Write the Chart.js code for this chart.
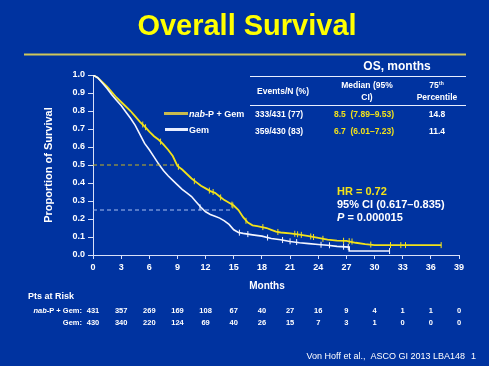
<!DOCTYPE html>
<html><head><meta charset="utf-8">
<script src="https://cdn.jsdelivr.net/npm/chart.js@4/dist/chart.umd.min.js"></script>
<style>html,body{margin:0;padding:0;background:#0033A0;}canvas{display:block;}</style>
</head><body>
<canvas id="c" width="489" height="366"></canvas>
<script>
// ---- data ----
const nabT = [0,0.5,1,1.5,2,2.5,3,3.5,4,4.5,5,5.5,6,6.5,7,7.5,8,8.5,9,9.5,10,10.5,11,11.5,12,12.5,13,13.5,14,14.5,15,15.5,16,16.5,17,17.5,18,18.5,19,19.5,20,21,22,23,24,25,26,27,28,29,30,33,37.1];
const nabS = [1.0,0.985,0.96,0.935,0.905,0.875,0.85,0.825,0.80,0.77,0.74,0.715,0.685,0.66,0.64,0.615,0.585,0.55,0.495,0.475,0.45,0.425,0.405,0.385,0.37,0.355,0.345,0.325,0.305,0.29,0.275,0.25,0.21,0.18,0.165,0.16,0.155,0.15,0.14,0.13,0.125,0.12,0.113,0.105,0.095,0.085,0.08,0.078,0.068,0.06,0.055,0.055,0.055];
const gemT = [0,0.5,1,1.5,2,2.5,3,3.5,4,4.5,5,5.5,6,6.5,7,7.5,8,8.5,9,9.5,10,10.5,11,11.5,12,12.5,13,13.5,14,14.5,15,15.5,16,17,18,19,20,21,22,23,24,25,26,27.3,27.3,31.6];
const gemS = [1.0,0.985,0.955,0.925,0.89,0.86,0.83,0.795,0.76,0.72,0.67,0.62,0.585,0.545,0.505,0.47,0.44,0.415,0.39,0.365,0.345,0.325,0.295,0.265,0.24,0.225,0.215,0.205,0.19,0.17,0.14,0.125,0.12,0.112,0.105,0.092,0.085,0.075,0.068,0.063,0.058,0.054,0.048,0.044,0.022,0.022];
const nabCensor = [[5.3,0.725],[5.6,0.71],[7.2,0.63],[9.1,0.49],[10.8,0.41],[12.4,0.358],[12.8,0.35],[13.6,0.32],[14.8,0.28],[14.9,0.275],[16.3,0.19],[18.1,0.155],[19.7,0.128],[21.5,0.118],[21.8,0.115],[22.2,0.112],[23.2,0.103],[23.5,0.1],[24.5,0.09],[26.7,0.079],[27.3,0.077],[27.6,0.075],[29.6,0.058],[31.7,0.055],[32.8,0.055],[33.3,0.055],[37.1,0.055]];
const gemCensor = [[11.4,0.265],[15.6,0.124],[16.5,0.116],[18.6,0.097],[20.2,0.083],[21.0,0.076],[21.7,0.072],[24.3,0.057],[25.2,0.054],[26.7,0.046],[27.2,0.044],[31.6,0.022]];
const medianNab = [[0,0.5],[8.8,0.5]];
const pct75 = [[0,0.25],[14.6,0.25]];
const monthTicks = [0,3,6,9,12,15,18,21,24,27,30,33,36,39];
const riskNab = [431,357,269,169,108,67,40,27,16,9,4,1,1,0];
const riskGem = [430,340,220,124,69,40,26,15,7,3,1,0,0,0];
const seriesNames = ['nab-P + Gem','Gem'];
const tableHeader = ['Events/N (%)','Median (95%','CI)','75th','Percentile'];
const tableEvents = ['333/431 (77)','359/430 (83)'];
const tableMedian = ['8.5  (7.89\u20139.53)','6.7  (6.01\u20137.23)'];
const table75 = ['14.8','11.4'];
const statsText = ['HR = 0.72','95% CI (0.617\u20130.835)','P = 0.000015'];

const FF = '"Liberation Sans", Arial, sans-serif';
const YEL = '#F2E21A';
const WHT = '#FFFFFF';
const AX = '#D8E0F8';
const pts = (t,s) => t.map((v,i)=>({x:v,y:s[i]}));
const pr = a => a.map(p=>({x:p[0],y:p[1]}));

const overlay = {
  id:'overlay',
  afterDraw(chart){
    const ctx = chart.ctx;
    const xs = chart.scales.x;
    ctx.save();
    ctx.textBaseline = 'alphabetic';
    // title
    ctx.fillStyle = '#FFFF00';
    ctx.font = 'bold 29px '+FF;
    ctx.textAlign = 'center';
    ctx.fillText('Overall Survival', 247, 35);
    ctx.strokeStyle = '#CFC75A';
    ctx.lineWidth = 2;
    ctx.beginPath(); ctx.moveTo(24,54.5); ctx.lineTo(466,54.5); ctx.stroke();
    // legend
    ctx.lineWidth = 3;
    ctx.strokeStyle = '#C9BA4E';
    ctx.beginPath(); ctx.moveTo(164,113.5); ctx.lineTo(188,113.5); ctx.stroke();
    ctx.strokeStyle = '#E8EEFF';
    ctx.beginPath(); ctx.moveTo(165,129.5); ctx.lineTo(188,129.5); ctx.stroke();
    ctx.fillStyle = WHT; ctx.textAlign='left';
    ctx.font = 'italic bold 9px '+FF;
    ctx.fillText('nab', 189, 117);
    let w = ctx.measureText('nab').width;
    ctx.font = 'bold 9px '+FF;
    ctx.fillText(seriesNames[0].slice(3), 189+w, 117);
    ctx.fillText(seriesNames[1], 189, 133);
    // table
    ctx.textAlign='center';
    ctx.font = 'bold 12px '+FF;
    ctx.fillText('OS, months', 397, 70);
    ctx.strokeStyle = '#E8EEFF'; ctx.lineWidth = 1;
    ctx.beginPath(); ctx.moveTo(250,76.5); ctx.lineTo(466,76.5); ctx.stroke();
    ctx.beginPath(); ctx.moveTo(250,105.5); ctx.lineTo(466,105.5); ctx.stroke();
    ctx.font = 'bold 8.5px '+FF;
    ctx.fillText(tableHeader[0], 283, 94);
    ctx.fillText(tableHeader[1], 367, 88);
    ctx.fillText(tableHeader[2], 367, 100);
    ctx.fillText(tableHeader[3].slice(0,2), 434, 88);
    ctx.font = 'bold 5px '+FF;
    ctx.textAlign='left';
    ctx.fillText(tableHeader[3].slice(2), 439, 85);
    ctx.textAlign='center';
    ctx.font = 'bold 8.5px '+FF;
    ctx.fillText(tableHeader[4], 437, 100);
    const rowY = [117, 134];
    for (let i=0;i<2;i++){
      ctx.fillStyle = WHT; ctx.textAlign='left';
      ctx.fillText(tableEvents[i], 255, rowY[i]);
      ctx.fillStyle = YEL;
      ctx.fillText(tableMedian[i], 334, rowY[i]);
      ctx.fillStyle = WHT; ctx.textAlign='center';
      ctx.fillText(table75[i], 437, rowY[i]);
    }
    // stats
    ctx.textAlign='left';
    ctx.font = 'bold 11px '+FF;
    ctx.fillStyle = YEL;
    ctx.fillText(statsText[0], 337, 195);
    ctx.fillStyle = WHT;
    ctx.fillText(statsText[1], 337, 208);
    ctx.font = 'italic bold 11px '+FF;
    ctx.fillText('P', 337, 221);
    const pw = ctx.measureText('P').width;
    ctx.font = 'bold 11px '+FF;
    ctx.fillText(statsText[2].slice(1), 337+pw, 221);
    // x title
    ctx.textAlign='center';
    ctx.font = 'bold 10px '+FF;
    ctx.fillText('Months', 267, 289);
    // risk table
    ctx.textAlign='left';
    ctx.font = 'bold 9px '+FF;
    ctx.fillText('Pts at Risk', 28, 299);
    ctx.font = 'bold 7.5px '+FF;
    ctx.textAlign='right';
    const lab1 = seriesNames[0].slice(3)+':';
    const l1w = ctx.measureText(lab1).width;
    ctx.fillText(lab1, 82, 313);
    ctx.font = 'italic bold 7.5px '+FF;
    ctx.fillText('nab', 82-l1w, 313);
    ctx.font = 'bold 7.5px '+FF;
    ctx.fillText(seriesNames[1]+':', 82, 325);
    ctx.textAlign='center';
    monthTicks.forEach((m,i)=>{
      const x = xs.getPixelForValue(m);
      ctx.fillText(String(riskNab[i]), x, 313);
      ctx.fillText(String(riskGem[i]), x, 325);
    });
    // footer
    ctx.textAlign='right';
    ctx.font = '9px '+FF;
    ctx.fillText('Von Hoff et al.,  ASCO GI 2013 LBA148', 465, 359);
    ctx.fillText('1', 476, 359);
    ctx.restore();
  }
};

new Chart(document.getElementById('c'), {
  type:'line',
  data:{ datasets:[
    {label:'median', data:pr(medianNab), borderColor:'#C8B41E', borderWidth:1, borderDash:[4,3], pointRadius:0},
    {label:'p75', data:pr(pct75), borderColor:'#A9C0F0', borderWidth:1, borderDash:[4,3], pointRadius:0},
    {label:seriesNames[1], data:pts(gemT,gemS), borderColor:'#F4F6FF', borderWidth:1.6, pointRadius:0, tension:0},
    {label:seriesNames[0], data:pts(nabT,nabS), borderColor:YEL, borderWidth:1.8, pointRadius:0, tension:0},
    {type:'scatter', label:'gc', data:pr(gemCensor), pointStyle:'line', rotation:90, radius:3, borderColor:'#F4F6FF', borderWidth:1, showLine:false},
    {type:'scatter', label:'nc', data:pr(nabCensor), pointStyle:'line', rotation:90, radius:3, borderColor:YEL, borderWidth:1, showLine:false}
  ]},
  options:{
    responsive:false, animation:false, devicePixelRatio:1,
    layout:{padding:{left:38,right:30,top:75,bottom:91}},
    plugins:{legend:{display:false}, tooltip:{enabled:false}},
    scales:{
      x:{type:'linear', min:0, max:39,
         afterFit(s){s.height=20;},
         afterBuildTicks(s){ s.ticks = monthTicks.map(v=>({value:v})); },
         ticks:{color:WHT, font:{family:FF, size:9, weight:'bold'}, padding:3, maxRotation:0, autoSkip:false},
         grid:{drawOnChartArea:false, drawTicks:true, tickLength:4, color:AX},
         border:{color:AX, width:1}},
      y:{min:0, max:1,
         afterFit(s){s.width=55;},
         ticks:{stepSize:0.1, color:WHT, font:{family:FF, size:9, weight:'bold'}, padding:3, callback:v=>v.toFixed(1)},
         grid:{drawOnChartArea:false, drawTicks:true, tickLength:5, color:AX},
         border:{color:AX, width:1},
         title:{display:true, text:'Proportion of Survival', color:WHT, font:{family:FF, size:11, weight:'bold'}, padding:{top:4,bottom:4}}}
    }
  },
  plugins:[overlay]
});
</script>
</body></html>
